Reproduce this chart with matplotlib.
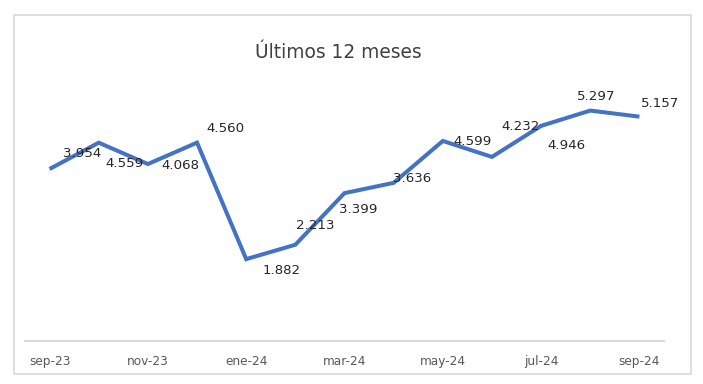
import matplotlib
matplotlib.use("Agg")
import matplotlib.pyplot as plt
from matplotlib.patches import Rectangle

months = ["sep-23", "oct-23", "nov-23", "dic-23", "ene-24", "feb-24", "mar-24",
          "abr-24", "may-24", "jun-24", "jul-24", "ago-24", "sep-24"]
values = [3.954, 4.559, 4.068, 4.560, 1.882, 2.213, 3.399, 3.636, 4.599,
          4.232, 4.946, 5.297, 5.157]
value_labels = ["3.954", "4.559", "4.068", "4.560", "1.882", "2.213", "3.399",
                "3.636", "4.599", "4.232", "4.946", "5.297", "5.157"]
title = "Últimos 12 meses"

# label offsets (pixels) relative to each point, as placed in the reference
label_offsets = [(33, 16), (26, -21), (32, -1), (28, 14), (35, -11), (20, 19),
                 (14, -16), (18, 4), (30, -1), (29, 30), (25, -20), (6, 14), (21, 13)]

W, H = 703, 384
fig = plt.figure(figsize=(W / 100, H / 100), dpi=100)
fig.patch.set_facecolor("white")

# outer border
fig.add_artist(Rectangle((14 / W, 1 - 374 / H), (691 - 14) / W, (374 - 15) / H,
                         transform=fig.transFigure, fill=False,
                         edgecolor="#d9d9d9", linewidth=1.2))

left, right = 25, 664
top, bottom = 80, 341
ax = fig.add_axes([left / W, 1 - bottom / H, (right - left) / W, (bottom - top) / H])
x = list(range(len(values)))
ax.plot(x, values, color="#4472C4", linewidth=2.9, solid_joinstyle="miter",
        solid_capstyle="butt")
ax.set_xlim(-0.5, len(values) - 0.5)
ax.set_ylim(0, 6)

for xi, v, lab, (dx, dy) in zip(x, values, value_labels, label_offsets):
    ax.annotate(lab, (xi, v), xytext=(dx, dy), textcoords="offset pixels",
                ha="center", va="center", fontsize=9.6, color="#262626",
                family="DejaVu Sans")

ax.set_xticks(x[::2])
ax.set_xticklabels(months[::2], fontsize=8.7, color="#595959")
ax.tick_params(axis="x", length=0, pad=10)
ax.set_yticks([])
for s in ["top", "right", "left"]:
    ax.spines[s].set_visible(False)
ax.spines["bottom"].set_color("#d9d9d9")
ax.spines["bottom"].set_linewidth(1.5)
ax.patch.set_alpha(0)

fig.text(338 / W, 1 - 53 / H, title, ha="center", va="center",
         fontsize=13.4, color="#404040")

fig.savefig("out.png", dpi=100)
